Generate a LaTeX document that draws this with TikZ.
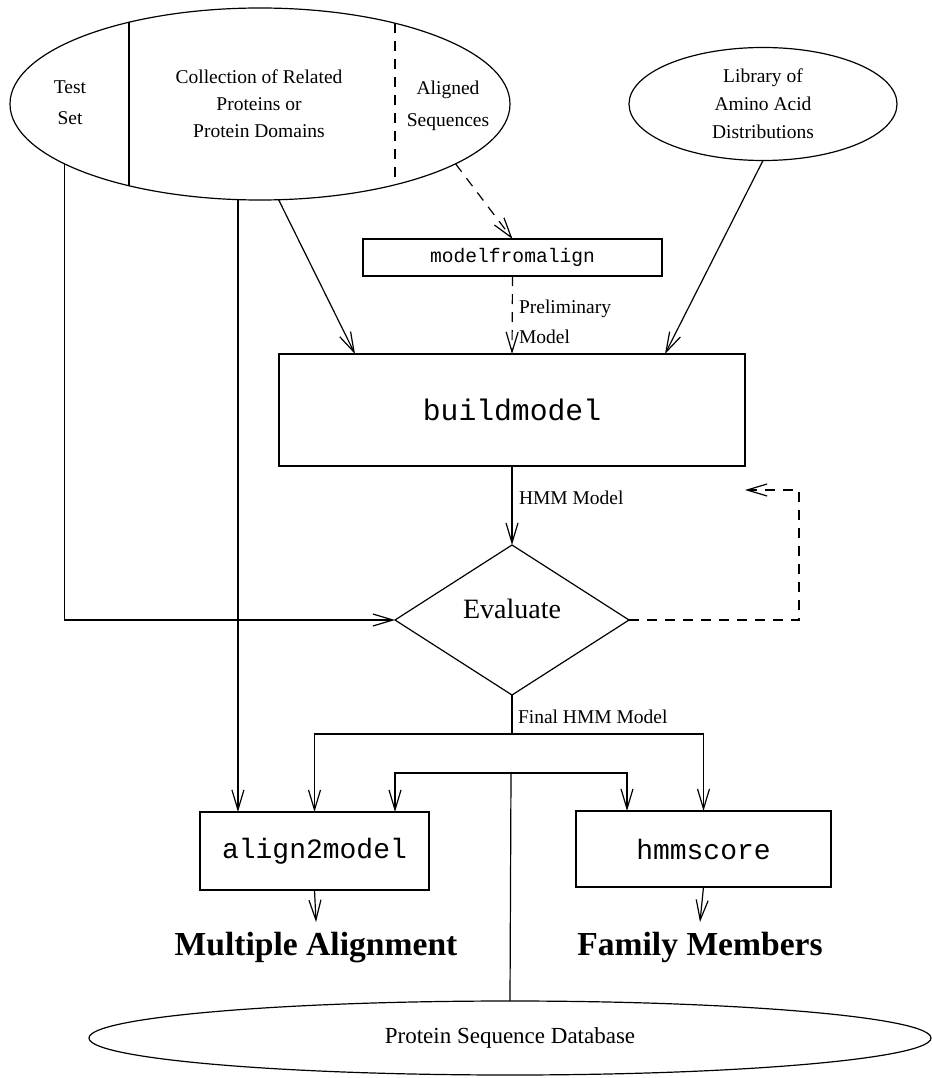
\documentclass[tikz,border=0pt]{standalone}
\usepackage{fontspec}
\setmainfont{Liberation Serif}
\setmonofont{Liberation Mono}
\usetikzlibrary{arrows.meta,shapes.geometric}
\newcommand\lblfont{\fontsize{19.5}{27}\selectfont}
\tikzset{
  every node/.style={inner sep=0pt, outer sep=0pt},
  shp/.style={draw, line width=1.2pt},
  arr/.style={-{Straight Barb[length=20pt,width=12pt]}},
  dsh/.style={dash pattern=on 10pt off 8pt},
  lbl/.style={align=center, font=\lblfont},
  edgelbl/.style={anchor=west, align=left, font=\lblfont},
  codebox/.style={shp, rectangle, font=\ttfamily},
  outtxt/.style={anchor=north, font=\fontsize{33.6}{36}\selectfont\bfseries}
}
\begin{document}
\begin{tikzpicture}[x=1pt,y=-1pt,line width=1.2pt]
\useasboundingbox (0,0) rectangle (931,1078);

% top ellipse with its divisions
\node[shp, ellipse, minimum width=500pt, minimum height=192pt] (coll) at (260,104) {};
\draw (129,22.2) -- (129,185.8);
\draw[dsh] (395,23.2) -- (395,184.8);
\node[lbl, font=\fontsize{19.5}{31}\selectfont] (ts) at (70,102.5) {Test\\Set};
\node[lbl] (crp) at (259,104) {Collection of Related\\Proteins or\\Protein Domains};
\node[lbl, font=\fontsize{19.5}{32}\selectfont] (as) at (448,106) {Aligned\\Sequences};

% library ellipse
\node[shp, ellipse, minimum width=268pt, minimum height=113pt, align=center,
      font=\fontsize{19.5}{28}\selectfont] (lib) at (763,104)
      {Library of\\Amino Acid\\Distributions};

% boxes
\node[codebox, minimum width=299pt, minimum height=37pt, font=\ttfamily\fontsize{19.6}{20}\selectfont] (mfa) at (512.5,257.5) {modelfromalign};
\node[codebox, minimum width=466pt, minimum height=112pt, font=\ttfamily\fontsize{29.7}{30}\selectfont] (bm) at (512,410) {buildmodel};
\node[shp, diamond, minimum width=234pt, minimum height=150pt, text depth=22pt, font=\fontsize{28}{30}\selectfont] (ev) at (512,620) {Evaluate};
\node[codebox, minimum width=229pt, minimum height=78pt, font=\ttfamily\fontsize{28}{30}\selectfont] (a2m) at (314.5,851) {align2model};
\node[codebox, minimum width=255pt, minimum height=76pt, font=\ttfamily\fontsize{28}{30}\selectfont] (hs) at (703.5,849) {hmmscore};
\node[shp, ellipse, minimum width=842pt, minimum height=74pt, font=\fontsize{23}{25}\selectfont] (db) at (510,1038) {Protein Sequence Database};

% outputs
\node[outtxt] (ma) at (316,932) {Multiple Alignment};
\node[outtxt] (fm) at (700,932) {Family Members};

% edge labels
\node[edgelbl, font=\fontsize{19.5}{30}\selectfont] (pm) at (519,322) {Preliminary\\Model};
\node[edgelbl] (hmm) at (519,498) {HMM Model};
\node[edgelbl] (fhm) at (518,717) {Final HMM Model};

% helper coordinates
\coordinate (fb1) at (799,620);
\coordinate (fb2) at (799,490);
\coordinate (fj) at (512,734);
\coordinate (dj) at (511,773);

% connectors
\draw[arr] (coll.197.5) -- (coll.197.5 |- ev.west) -- (ev.west);
\draw[arr] (coll.257.6) -- (coll.257.6 |- a2m.north);
\draw[arr] (coll.281.2) -- ([xshift=76pt]bm.north west);
\draw[arr, dsh] (coll.343.5) -- (mfa.north);
\draw[arr, dsh] (mfa.south) -- (bm.north);
\draw[arr] (lib.south) -- ([xshift=-80pt]bm.north east);
\draw[arr] (bm.south) -- (ev.north);
\draw[arr, dsh] (ev.east) -- (fb1) -- (fb2) -- (fb2 -| bm.east);
\draw (ev.south) -- (fj);
\draw[arr] (fj) -| (a2m.north);
\draw[arr] (fj) -| (hs.north);
\draw (db.north) -- (dj);
\draw[arr] (dj) -| ([xshift=80.5pt]a2m.north);
\draw[arr] (dj) -| ([xshift=-76.5pt]hs.north);
\draw[arr] (a2m.south) -- ([yshift=10pt]ma.north);
\draw[arr] (hs.south) -- ([yshift=10pt]fm.north);
\end{tikzpicture}
\end{document}
